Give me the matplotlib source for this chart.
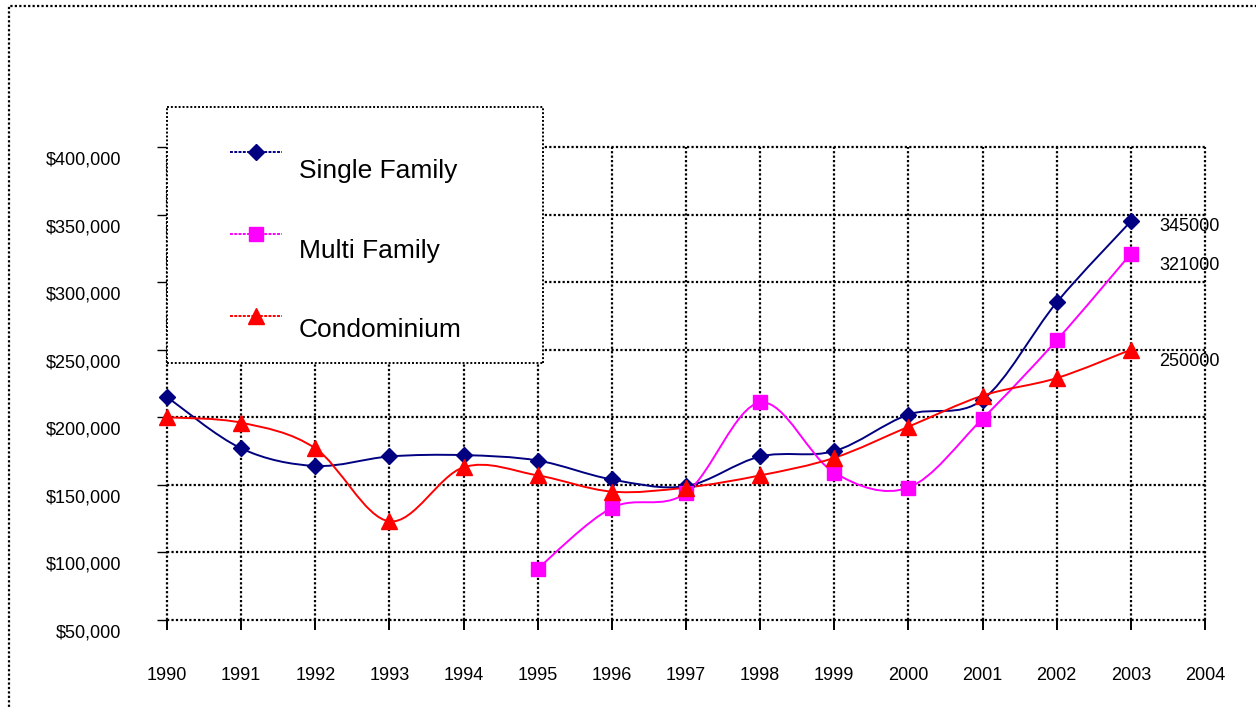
import numpy as np
import matplotlib
matplotlib.use('Agg')
import matplotlib.pyplot as plt
import matplotlib.transforms as mtransforms
from matplotlib.path import Path
from matplotlib.patches import PathPatch, Rectangle
from matplotlib.ticker import FuncFormatter

################# DATA ##################
years = [1990, 1991, 1992, 1993, 1994, 1995, 1996, 1997, 1998, 1999, 2000, 2001, 2002, 2003]
single_family = [215000, 177000, 164000, 171000, 172000, 168000, 154000, 149000,
                 171000, 175000, 202000, 213000, 285000, 345000]
multi_years = [1995, 1996, 1997, 1998, 1999, 2000, 2001, 2002, 2003]
multi_family = [88000, 133000, 144000, 211000, 159000, 148000, 199000, 257000, 321000]
condominium = [200000, 196000, 177000, 123000, 163000, 157000, 145000, 148000,
               157000, 170000, 193000, 216000, 229000, 250000]

x_ticks = list(range(1990, 2005))
y_ticks = list(range(50000, 400001, 50000))

series_names = ['Single Family', 'Multi Family', 'Condominium']
series_colors = ['#000080', '#FF00FF', '#FF0000']
series_markers = ['D', 's', '^']
series_ms = [8, 10, 11]

# end of line labels (value, text, pixel drop)
end_values = [345000, 321000, 250000]
end_texts = ['345000', '321000', '250000']
end_drop = [5, 12, 12]

plt.rcParams['font.family'] = ['Liberation Sans', 'DejaVu Sans']

W, H = 1256, 708
fig = plt.figure(figsize=(W / 100, H / 100), dpi=100)


def px_box(x0, y0, x1, y1):
    # pixel box (origin top left) -> figure fraction rect
    return [x0 / W, 1 - y1 / H, (x1 - x0) / W, (y1 - y0) / H]


def smooth_line(ax, x, y, color, lw=1.4):
    # excel style smoothed line, bezier segments through the points
    x = np.asarray(x, float)
    y = np.asarray(y, float)
    xp = np.r_[x[0], x, x[-1]]
    yp = np.r_[y[0], y, y[-1]]
    verts = [(x[0], y[0])]
    codes = [Path.MOVETO]
    for i in range(len(x) - 1):
        c1 = (x[i] + (xp[i + 2] - xp[i]) / 6, y[i] + (yp[i + 2] - yp[i]) / 6)
        c2 = (x[i + 1] - (xp[i + 3] - xp[i + 1]) / 6, y[i + 1] - (yp[i + 3] - yp[i + 1]) / 6)
        verts += [c1, c2, (x[i + 1], y[i + 1])]
        codes += [Path.CURVE4] * 3
    ax.add_patch(PathPatch(Path(verts, codes), fill=False, edgecolor=color, lw=lw, zorder=3))


dotted = (0, (1, 1))

########## MAIN AXES ##########
ax = fig.add_axes(px_box(167, 147, 1205, 620))
ax.set_xlim(1990, 2004)
ax.set_ylim(50000, 400000)
ax.set_xticks(x_ticks)
ax.set_yticks(y_ticks)
ax.yaxis.set_major_formatter(FuncFormatter(lambda v, _: f'${v:,.0f}'))
ax.grid(True, color='black', linestyle=dotted, linewidth=1.6)
ax.set_axisbelow(True)
for gl in ax.get_xgridlines() + ax.get_ygridlines():
    gl.set_clip_on(False)
for s in ax.spines.values():
    s.set_visible(False)
ax.tick_params(axis='y', length=7, width=1, pad=26, labelsize=13)
ax.tick_params(axis='x', length=7, width=1.4, pad=27, labelsize=13)

# y labels sit a bit below their gridline
offset = mtransforms.ScaledTranslation(0, -11 / 100, fig.dpi_scale_trans)
for lbl in ax.get_yticklabels():
    lbl.set_transform(lbl.get_transform() + offset)

all_x = [years, multi_years, years]
all_y = [single_family, multi_family, condominium]
for xs, ys, c, m, ms in zip(all_x, all_y, series_colors, series_markers, series_ms):
    smooth_line(ax, xs, ys, c)
    ax.plot(xs, ys, ls='none', marker=m, ms=ms, color=c, zorder=4, clip_on=False)

for v, t, d in zip(end_values, end_texts, end_drop):
    ax.annotate(t, (2003, v), xytext=(28 * 0.72, -d * 0.72), textcoords='offset points',
                ha='left', va='center', fontsize=13, annotation_clip=False)

########## LEGEND BOX ##########
lax = fig.add_axes(px_box(167, 107, 543, 363))
lax.set_xlim(167, 543)
lax.set_ylim(363, 107)
lax.set_xticks([])
lax.set_yticks([])
lax.set_facecolor('white')
for s in lax.spines.values():
    s.set_linestyle(dotted)
    s.set_linewidth(1.4)
    s.set_capstyle('butt')

leg_line_y = [152, 234, 316]
leg_text_y = [178, 258, 337]
for name, c, m, ms, ly, ty in zip(series_names, series_colors, series_markers, series_ms,
                                   leg_line_y, leg_text_y):
    lax.plot([230, 282], [ly, ly], color=c, lw=1.4, ls=(0, (1.5, 0.7)))
    lax.plot([256], [ly], ls='none', marker=m, ms=ms, color=c)
    lax.text(299, ty, name, fontsize=19, ha='left', va='baseline')

########## OUTER BORDER ##########
fig.add_artist(Rectangle((9 / W, -0.1), 1.2, 1 - 6 / H + 0.1, transform=fig.transFigure,
                         fill=False, ec='black', ls=dotted, lw=1.6, capstyle='butt'))

fig.savefig('out.png', dpi=100)
